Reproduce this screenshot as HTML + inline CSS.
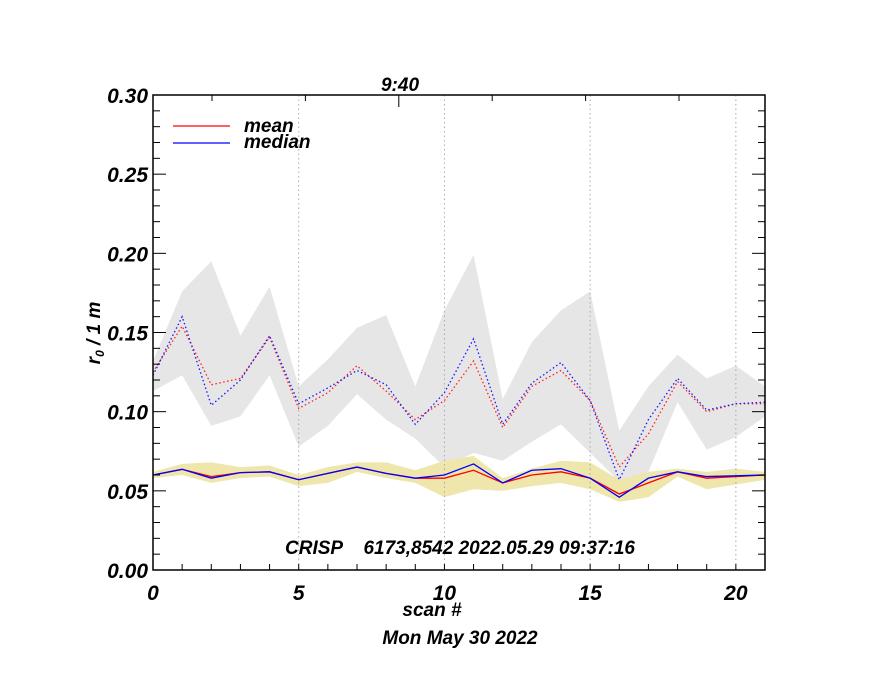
<!DOCTYPE html>
<html><head><meta charset="utf-8"><style>
html,body{margin:0;padding:0;background:#fff;}
svg text{font-family:"Liberation Sans",sans-serif;font-weight:bold;font-style:italic;fill:#000;}
</style></head><body>
<svg id="chart" width="880" height="680" viewBox="0 0 880 680" xmlns="http://www.w3.org/2000/svg"></svg>
<script>
const scans = [0,1,2,3,4,5,6,7,8,9,10,11,12,13,14,15,16,17,18,19,20,21];
const meanDot   = [0.125,0.154,0.117,0.121,0.147,0.102,0.112,0.129,0.113,0.095,0.107,0.132,0.090,0.116,0.126,0.107,0.065,0.086,0.119,0.100,0.105,0.105];
const medianDot = [0.123,0.160,0.104,0.120,0.148,0.105,0.115,0.126,0.117,0.092,0.112,0.146,0.092,0.118,0.131,0.107,0.057,0.095,0.121,0.101,0.105,0.106];
const grayHi = [0.132,0.176,0.195,0.148,0.179,0.116,0.133,0.153,0.161,0.116,0.164,0.199,0.108,0.144,0.164,0.176,0.088,0.116,0.136,0.121,0.129,0.116];
const grayLo = [0.113,0.123,0.091,0.097,0.123,0.078,0.091,0.111,0.095,0.083,0.065,0.074,0.069,0.081,0.092,0.074,0.056,0.062,0.106,0.076,0.084,0.097];
const meanSol   = [0.060,0.0636,0.059,0.0615,0.062,0.057,0.061,0.065,0.061,0.058,0.058,0.063,0.055,0.060,0.062,0.058,0.048,0.055,0.062,0.058,0.059,0.060];
const medianSol = [0.060,0.0636,0.058,0.0615,0.062,0.057,0.061,0.065,0.061,0.058,0.060,0.067,0.055,0.063,0.064,0.058,0.046,0.058,0.062,0.059,0.0595,0.060];
const yelHi = [0.062,0.067,0.068,0.065,0.066,0.060,0.065,0.068,0.068,0.063,0.069,0.072,0.058,0.064,0.069,0.068,0.057,0.062,0.064,0.062,0.064,0.062];
const yelLo = [0.058,0.060,0.055,0.058,0.059,0.053,0.055,0.062,0.058,0.055,0.046,0.051,0.050,0.053,0.055,0.051,0.043,0.046,0.059,0.051,0.054,0.057];
const yTicks = [0,0.05,0.10,0.15,0.20,0.25,0.30];
const yTickLabels = ["0.00","0.05","0.10","0.15","0.20","0.25","0.30"];
const xTicks = [0,5,10,15,20];

const L=153,R=765,T=95,B=570;
const xs=v=>L+(v-0)/(21-0)*(R-L);
const ys=v=>B-(v-0)/(0.30-0)*(B-T);
const svg=document.getElementById('chart');
const NS='http://www.w3.org/2000/svg';
function mk(tag,attrs,parent){const e=document.createElementNS(NS,tag);for(const k in attrs)e.setAttribute(k,attrs[k]);(parent||svg).appendChild(e);return e;}
function band(hi,lo,fill,name){
  let pts=scans.map((s,i)=>xs(s)+','+ys(hi[i]));
  pts=pts.concat(scans.slice().reverse().map((s,j)=>{const i=scans.length-1-j;return xs(s)+','+ys(lo[i]);}));
  const p=mk('polygon',{points:pts.join(' '),fill:fill});
  
  
}
function line(vals,color,dash,name){
  const p=mk('polyline',{points:scans.map((s,i)=>xs(s)+','+ys(vals[i])).join(' '),fill:'none',stroke:color,'stroke-width':1.3});
  if(dash)p.setAttribute('stroke-dasharray',dash);
  
  
}
band(grayHi,grayLo,'#e6e6e6','gray-range-band');
band(yelHi,yelLo,'#eee6aa','yellow-range-band');
xTicks.forEach(v=>{if(v>0){const g=mk('line',{x1:xs(v),x2:xs(v),y1:T,y2:B,stroke:'#aaa','stroke-width':1,'stroke-dasharray':'1.5,3'});

}});
line(meanDot,'#ff2020','1.5,2.5','mean-dotted-line');
line(medianDot,'#1818ff','1.5,2.5','median-dotted-line');
line(meanSol,'#ff0000',null,'mean-line');
line(medianSol,'#0000ff',null,'median-line');
const fr=mk('rect',{x:L,y:T,width:R-L,height:B-T,fill:'none',stroke:'#000','stroke-width':1.5});


for(let k=0;k<=30;k++){const v=k/100;const major=k%5===0;const len=major?13:7;
  mk('line',{x1:L,x2:L+len,y1:ys(v),y2:ys(v),stroke:'#000','stroke-width':1});
  mk('line',{x1:R,x2:R-len,y1:ys(v),y2:ys(v),stroke:'#000','stroke-width':1});}
yTicks.forEach((v,i)=>{const t=mk('text',{x:L-5,y:ys(v)+8,'text-anchor':'end','font-size':21});t.textContent=yTickLabels[i];

});
for(let k=0;k<=21;k++){mk('line',{x1:xs(k),x2:xs(k),y1:B,y2:B-6,stroke:'#000','stroke-width':1});}
for(let k=0;k<6;k++){const x=212+93.4*k;mk('line',{x1:x,x2:x,y1:T,y2:T+(k===2?12:6),stroke:'#000','stroke-width':1});}
xTicks.forEach(v=>{const t=mk('text',{x:xs(v),y:600,'text-anchor':'middle','font-size':21});t.textContent=String(v);

});
</script>
<svg style="position:absolute;left:0;top:0" width="880" height="680">
<text x="400" y="91" text-anchor="middle" font-size="19">9:40</text>
<line x1="173" y1="126" x2="230" y2="126" stroke="#f00" stroke-width="1.2"/>
<line x1="173" y1="143" x2="230" y2="143" stroke="#00f" stroke-width="1.2"/>
<text x="244" y="132" font-size="19">mean</text>
<text x="244" y="148" font-size="19">median</text>
<text x="460" y="554" text-anchor="middle" font-size="19" xml:space="preserve">CRISP    6173,8542 2022.05.29 09:37:16</text>
<text x="432" y="616" text-anchor="middle" font-size="19">scan #</text>
<text x="460" y="644" text-anchor="middle" font-size="19">Mon May 30 2022</text>
<text transform="translate(100,333) rotate(-90)" text-anchor="middle" font-size="19">r<tspan font-size="12" dy="4">0</tspan><tspan dy="-4"> / 1 m</tspan></text>
</svg>
</body></html>
